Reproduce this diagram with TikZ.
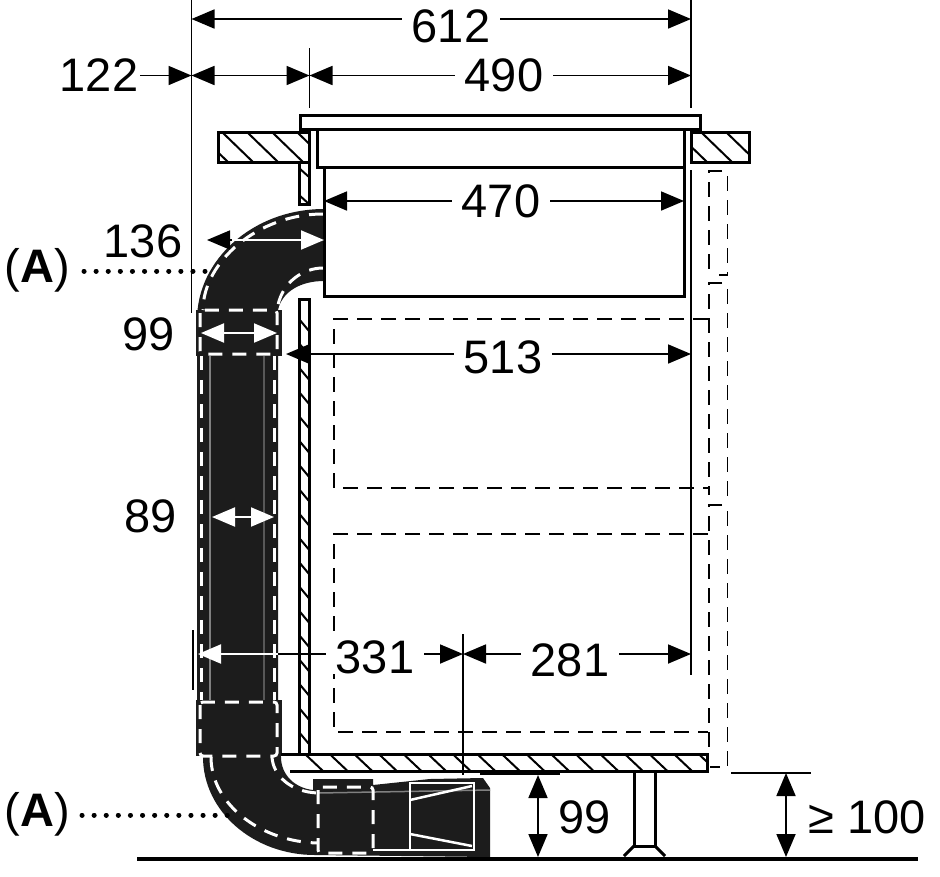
\documentclass[tikz,border=0pt]{standalone}
\usepackage{fontspec}
\setmainfont{Liberation Sans}
\usetikzlibrary{arrows.meta}
\definecolor{ductblack}{HTML}{1C1C1C}
\definecolor{ductgrey}{HTML}{808080}
\tikzset{
  wall/.style={line width=3pt, black},
  hatchline/.style={line width=2pt, black},
  hidden/.style={line width=1.8pt, black, dash pattern=on 15pt off 9pt},
  dimline/.style={line width=1.8pt, black},
  dimboth/.style={dimline, {Triangle[length=23pt,width=19pt]}-{Triangle[length=23pt,width=19pt]}},
  dimend/.style={dimline, -{Triangle[length=23pt,width=19pt]}},
  whiteboth/.style={line width=2pt, white, {Triangle[length=23pt,width=19pt]}-{Triangle[length=23pt,width=19pt]}},
  whiteend/.style={line width=2pt, white, -{Triangle[length=23pt,width=19pt]}},
  ductdash/.style={line width=3pt, white, dash pattern=on 14pt off 10pt},
  leader/.style={line width=5pt, black, line cap=round, dash pattern=on 0.1pt off 12pt},
  dimtext/.style={font=\fontsize{47}{50}\selectfont, fill=white, inner xsep=10pt, inner ysep=0pt},
  marktext/.style={font=\fontsize{47}{50}\selectfont, inner sep=0pt}
}
\begin{document}
\begin{tikzpicture}[x=1pt, y=-1pt]
    \useasboundingbox (0,0) rectangle (940,876);

    % Duct
    \fill[ductblack] (324,209) .. controls (254,209) and (197,259) .. (197,320) -- (197,700) -- (203,757)
        .. controls (203,811) and (253,855) .. (315,855) -- (490,857) -- (490,788) -- (483,778)
        -- (430,779) -- (373,785) -- (373,779) -- (313,779) -- (313,790)
        .. controls (295,788) and (281,775) .. (281,757) -- (278,700) -- (278,310)
        .. controls (282,292) and (300,281) .. (324,281) -- cycle;
    \fill[ductblack] (196,310) rectangle (282,356);
    \fill[ductblack] (196,700) rectangle (282,756);
    \draw[ductgrey, line width=2pt] (210,356) -- (210,700);
    \draw[ductgrey!60!ductblack, line width=2pt] (264,356) -- (264,700);
    \draw[ductgrey, line width=1.5pt] (318,793) -- (490,790);

    % White outlines on the duct
    \draw[ductdash] (323,214) .. controls (258,214) and (203,262) .. (203,310);
    \draw[ductdash] (323,268) .. controls (303,268) and (283,282) .. (278,305);
    \draw[ductdash] (201,356) -- (201,700);
    \draw[ductdash] (274,356) -- (274,700);
    \draw[ductdash, rounded corners=3pt] (200,310) rectangle (277,354);
    \draw[ductdash, rounded corners=3pt] (200,702) rectangle (277,756);
    \draw[ductdash] (211,757) .. controls (211,805) and (262,842) .. (318,843);
    \draw[ductdash] (272,757) .. controls (273,775) and (290,792) .. (318,793);
    \draw[ductdash, rounded corners=3pt] (318,787) rectangle (373,853);
    \draw[white, line width=2.5pt] (410,783) rectangle (474,850);
    \draw[white, line width=2.5pt] (410,800) -- (472,786);
    \draw[white, line width=2.5pt] (410,834) -- (472,846);
    \draw[white, line width=2.5pt] (373,850) -- (410,850);

    % Worktop
    \begin{scope}
      \clip (218,132) rectangle (309,162);
      \foreach \hx in {198,223,...,298} \draw[hatchline] (\hx,133) -- ++(30,29);
    \end{scope}
    \begin{scope}
      \clip (691,132) rectangle (749,162);
      \foreach \hx in {677,702,727} \draw[hatchline] (\hx,133) -- ++(30,29);
    \end{scope}
    \draw[wall] (218,132) rectangle (309,162);
    \draw[wall] (691,132) rectangle (749,162);

    % Hob
    \draw[wall, fill=white] (300,115) rectangle (700,129);
    \draw[wall] (317,129) rectangle (684,167);
    \draw[wall] (324,167) rectangle (684,296);

    % Cabinet wall
    \foreach \hy in {168,195} \draw[hatchline] (299,\hy) -- ++(10,9);
    \foreach \hy in {319,343.3,...,740} \draw[hatchline] (299,\hy) -- ++(10,12);
    \draw[wall] (299,162) -- (299,204) -- (309,204) -- (309,162);
    \draw[wall] (309,753) -- (309,299) -- (299,299) -- (299,753);

    % Shelf
    \begin{scope}
      \clip (299,754) rectangle (707,771);
      \foreach \hx in {305,329.6,...,705} \draw[hatchline] (\hx,754) -- ++(18,17);
    \end{scope}
    \draw[wall] (281,754) -- (707,754) -- (707,771) -- (290,771);

    % Leg and floor
    \draw[wall] (634,772) -- (634,846) -- (655,846) -- (655,772);
    \draw[wall] (624,856) -- (634,846);
    \draw[wall] (665,856) -- (655,846);
    \draw[line width=4pt, black] (137,859) -- (918,859);

    % Hidden edges
    \draw[hidden] (708,319) -- (334,319) -- (334,488) -- (708,488);
    \draw[hidden] (708,534) -- (334,534) -- (334,732) -- (708,732);
    \draw[hidden] (722,171) -- (709,171) -- (709,277);
    \draw[hidden] (727.5,176) -- (727.5,275) -- (719,275);
    \draw[hidden] (722,283) -- (709,283) -- (709,495);
    \draw[hidden] (727.5,289) -- (727.5,495) -- (719,495);
    \draw[hidden] (722,505) -- (709,505) -- (709,753);
    \draw[hidden] (727.5,511) -- (727.5,767) -- (710,767);

    % Extension lines
    \draw[dimline] (191.5,0) -- (191.5,313);
    \draw[dimline] (691,0) -- (691,108);
    \draw[dimline] (691,170) -- (691,675);
    \draw[dimline] (309.5,48) -- (309.5,108);
    \draw[dimline] (193,630) -- (193,690);
    \draw[dimline] (463,634) -- (463,775);
    \draw[dimline] (480,774) -- (560,774);
    \draw[dimline] (731,773) -- (811,773);

    % Arrows
    \coordinate (wA) at (191.5,19); \coordinate (wB) at (691,19);
    \coordinate (oA) at (140,75.5); \coordinate (oB) at (191.5,75.5);
    \coordinate (cA) at (309.5,75.5); \coordinate (cB) at (691,75.5);
    \coordinate (bA) at (324,201);  \coordinate (bB) at (684,201);
    \coordinate (iA) at (286,354);  \coordinate (iB) at (691,354);
    \coordinate (dA) at (278,654);  \coordinate (dB) at (425,654); \coordinate (dC) at (463,654);
    \coordinate (sA) at (691,654);
    \coordinate (hA) at (538,775);  \coordinate (hB) at (538,857);
    \coordinate (gA) at (786,773);  \coordinate (gB) at (786,857);

    \draw[dimboth] (wA) -- (wB);
    \draw[dimend] (oA) -- (oB);
    \draw[dimboth] (oB) -- (cA);
    \draw[dimboth] (cA) -- (cB);
    \draw[dimboth] (bA) -- (bB);
    \draw[dimboth] (iA) -- (iB);
    \draw[dimline] (dA) -- (dB);
    \draw[dimend] (dB) -- (dC);
    \draw[dimboth] (dC) -- (sA);
    \draw[dimboth] (hA) -- (hB);
    \draw[dimboth] (gA) -- (gB);
    \draw[whiteend] (278,654) -- (198,654);
    \draw[whiteboth] (201,333) -- (277,333);
    \draw[whiteboth] (212,517) -- (274,517);
    \draw[whiteend] (232,240) -- (324,240);
    \draw[dimend] (232,240) -- (207,240);

    % Leaders
    \draw[leader] (84,271) -- (205,271);
    \draw[leader] (82,815) -- (236,815);

    % Labels
    \node[dimtext] (w612) at (451,26) {612};
    \node[marktext] (o122) at (99,75) {122};
    \node[dimtext] (c490) at (504,75) {490};
    \node[dimtext] (b470) at (501,201) {470};
    \node[marktext] (d136) at (143,241) {136};
    \node[marktext] (d99a) at (149,334) {99};
    \node[dimtext] (i513) at (503,357) {513};
    \node[marktext] (d89) at (151,516) {89};
    \node[dimtext] (d331) at (375,657) {331};
    \node[dimtext] (s281) at (570,660) {281};
    \node[marktext] (h99) at (585,817) {99};
    \node[marktext] (g100) at (867,817) {≥ 100};
    \node[marktext] (markA) at (37.5,270) {(\textbf{A})};
    \node[marktext] (markB) at (37.5,814) {(\textbf{A})};
  \end{tikzpicture}
\end{document}
